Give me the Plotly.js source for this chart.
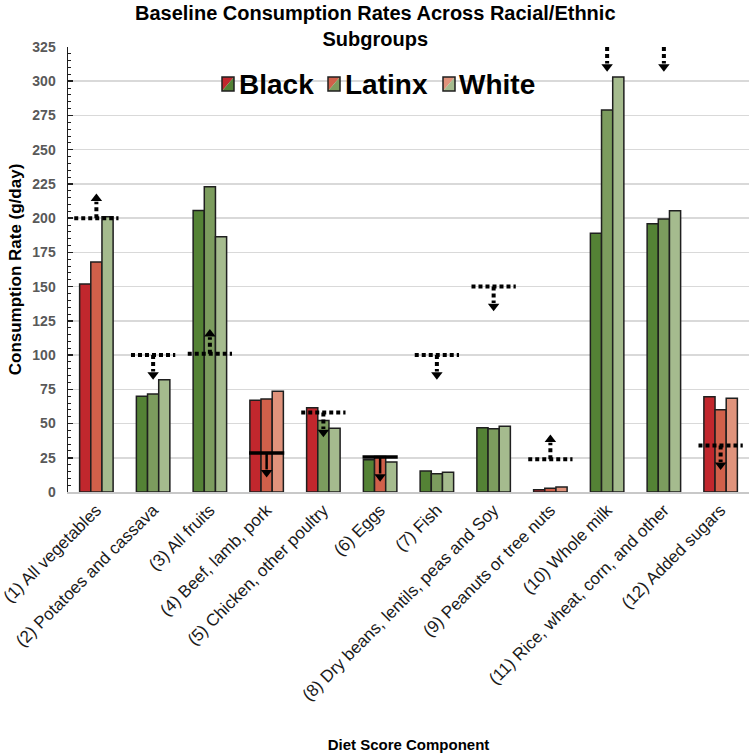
<!DOCTYPE html>
<html>
<head>
<meta charset="utf-8">
<script src="https://cdn.plot.ly/plotly-3.0.1.min.js"></script>
<style>
  html, body { margin: 0; padding: 0; background: #ffffff; }
  #chart { width: 750px; height: 754px; }
</style>
</head>
<body>
<div id="chart"></div>
<script>
// ---------------- DATA ----------------
const categories = [
  "(1) All vegetables",
  "(2) Potatoes and cassava",
  "(3) All fruits",
  "(4) Beef, lamb, pork",
  "(5) Chicken, other poultry",
  "(6) Eggs",
  "(7) Fish",
  "(8) Dry beans, lentils, peas and Soy",
  "(9) Peanuts or tree nuts",
  "(10) Whole milk",
  "(11) Rice, wheat, corn, and other",
  "(12) Added sugars"
];
const seriesNames = ["Black", "Latinx", "White"];

const blackValues  = [152, 70, 205.5, 67, 61.5, 23.5, 15.3, 47, 1.7, 189, 196, 69.6];
const latinxValues = [168, 71.5, 223, 68, 52.3, 26, 13.4, 46.2, 2.7, 279, 199.3, 60];
const whiteValues  = [201, 82, 186.5, 73.5, 46.5, 22, 14.4, 48, 3.6, 303, 205.4, 68.5];

// 1 = bar drawn in red (outside recommendation), 0 = green
const blackOutside  = [1, 0, 0, 1, 1, 0, 0, 0, 1, 0, 0, 1];
const latinxOutside = [1, 0, 0, 1, 0, 1, 0, 0, 1, 0, 0, 1];
const whiteOutside  = [0, 0, 0, 1, 0, 0, 0, 0, 1, 0, 0, 1];

// recommended threshold per component (null = above the axis range)
const thresholds     = [200, 100, 101, 28.5, 58, 25.5, 100, 150, 24, null, null, 34];
const arrowDirection = ["up", "down", "up", "down", "down", "down", "down", "down", "up", "down", "down", "down"];
const thresholdStyle = ["dot", "dot", "dot", "solid", "dot", "solid", "dot", "dot", "dot", "none", "none", "dot"];

const yTickValues = [0, 25, 50, 75, 100, 125, 150, 175, 200, 225, 250, 275, 300, 325];

// ---------------- STYLE ----------------
const W = 750, H = 754;
const M = { l: 68, r: 1, t: 47, b: 262 };
const plotW = W - M.l - M.r, plotH = H - M.t - M.b;
const yMax = 325;
const unitPx = plotH / yMax;

const redShades   = ["#C1272D", "#D0604A", "#E0937C"];
const greenShades = ["#548235", "#7C9C5E", "#A5BB8E"];
const FONT = "Liberation Sans, Arial, sans-serif";

const valueSets = [blackValues, latinxValues, whiteValues];
const flagSets  = [blackOutside, latinxOutside, whiteOutside];

const traces = [];
valueSets.forEach((vals, s) => {
  traces.push({
    type: "bar",
    name: seriesNames[s],
    x: categories,
    y: vals,
    marker: {
      color: flagSets[s].map(f => f ? redShades[s] : greenShades[s]),
      line: { color: "#1f1f1f", width: 1.5 }
    },
    showlegend: false,
    hoverinfo: "x+y+name"
  });
});

// ---- threshold lines + arrows ----
const shapes = [];
const arrowLen = 18;            // data units
const headR = 5;                // marker radius px
const headRU = headR / unitPx;  // in data units
const headX = [], headY = [], headSym = [];

categories.forEach((cat, i) => {
  const style = thresholdStyle[i];
  const up = arrowDirection[i] === "up";
  const start = thresholds[i] === null ? yMax : thresholds[i];
  if (style !== "none") {
    const half = style === "solid" ? 0.31 : 0.39;
    shapes.push({
      type: "line", xref: "x", yref: "y", layer: "above",
      x0: i - half, x1: i + half, y0: start, y1: start,
      line: { color: "#000000", width: style === "solid" ? 3.5 : 4, dash: style === "solid" ? "solid" : "4px,3px" }
    });
  }
  const sign = up ? 1 : -1;
  const tip = start + sign * arrowLen;
  const base = tip - sign * 1.5 * headRU;
  traces.push({
    type: "scatter", mode: "lines",
    x: [cat, cat], y: [start, base - sign * 0.5],
    line: { color: "#000000", width: style === "solid" ? 2.5 : 4, dash: style === "solid" ? "solid" : "4px,3px" },
    showlegend: false, hoverinfo: "skip", cliponaxis: false
  });
  headX.push(cat);
  headY.push(tip - sign * headRU);
  headSym.push(up ? "triangle-up" : "triangle-down");
});
traces.push({
  type: "scatter", mode: "markers",
  x: headX, y: headY,
  marker: { symbol: headSym, size: 2 * headR, color: "#000000", line: { width: 0 } },
  showlegend: false, hoverinfo: "skip", cliponaxis: false
});

// ---- custom legend (split red/green swatches) ----
const px2x = px => (px - M.l) / plotW;
const px2y = py => (H - M.b - py) / plotH;
const legendBoxX = [222, 328, 443];
const legendTextX = [237, 343, 457];
const boxTop = 77, boxBot = 91, boxW = 12;
const annotations = [];
seriesNames.forEach((nm, s) => {
  const x0 = px2x(legendBoxX[s]), x1 = px2x(legendBoxX[s] + boxW);
  const y0 = px2y(boxBot), y1 = px2y(boxTop);
  shapes.push({
    type: "path", xref: "paper", yref: "paper", layer: "above",
    path: `M${x0},${y0} L${x0},${y1} L${x1},${y1} Z`,
    fillcolor: redShades[s], line: { width: 0 }
  });
  shapes.push({
    type: "path", xref: "paper", yref: "paper", layer: "above",
    path: `M${x0},${y0} L${x1},${y1} L${x1},${y0} Z`,
    fillcolor: greenShades[s], line: { width: 0 }
  });
  shapes.push({
    type: "rect", xref: "paper", yref: "paper", layer: "above",
    x0: x0, x1: x1, y0: y0, y1: y1,
    line: { color: "#1f1f1f", width: 1.5 }
  });
  annotations.push({
    xref: "paper", yref: "paper", x: px2x(legendTextX[s]), y: px2y((boxTop + boxBot) / 2),
    xanchor: "left", yanchor: "middle", showarrow: false,
    text: "<b>" + nm + "</b>",
    font: { family: FONT, size: 28, color: "#000000" }
  });
});

// chart title (two lines)
annotations.push({
  xref: "paper", yref: "paper", x: px2x(375), y: px2y(0),
  xanchor: "center", yanchor: "top", showarrow: false, align: "center",
  text: "<b>Baseline Consumption Rates Across Racial/Ethnic<br>Subgroups</b>",
  font: { family: FONT, size: 20, color: "#000000" }
});

const layout = {
  width: W, height: H,
  margin: M,
  paper_bgcolor: "#ffffff",
  plot_bgcolor: "#ffffff",
  font: { family: FONT, color: "#000000" },
  barmode: "group",
  bargap: 0.41,
  bargroupgap: 0,
  showlegend: false,
  xaxis: {
    type: "category",
    range: [-0.5, categories.length - 0.5],
    tickangle: -45,
    tickfont: { family: FONT, size: 17, color: "#1a1a1a" },
    showline: true, linecolor: "#C8C8C8", linewidth: 1.5,
    ticks: "", showgrid: false,
    automargin: false,
    title: { text: "<b>Diet Score Component</b>", font: { family: FONT, size: 15, color: "#000000" }, standoff: 36 }
  },
  yaxis: {
    range: [0, yMax],
    tickvals: yTickValues,
    ticktext: yTickValues.map(v => "<b>" + v + "</b>"),
    tickfont: { family: FONT, size: 14, color: "#595959" },
    ticklabelstandoff: 8,
    showgrid: true, gridcolor: "#D9D9D9", gridwidth: 1.5,
    showline: true, linecolor: "#1f1f1f", linewidth: 1.5,
    ticks: "inside", ticklen: 5, tickcolor: "#1f1f1f", tickwidth: 1.5,
    minor: { dtick: 5, ticks: "inside", ticklen: 3, tickcolor: "#1f1f1f", tickwidth: 1, showgrid: false },
    zeroline: false,
    automargin: false,
    title: { text: "<b>Consumption Rate (g/day)</b>", font: { family: FONT, size: 17, color: "#000000" }, standoff: 6 }
  },
  shapes: shapes,
  annotations: annotations
};

Plotly.newPlot("chart", traces, layout, { displayModeBar: false, staticPlot: true });
</script>
</body>
</html>
